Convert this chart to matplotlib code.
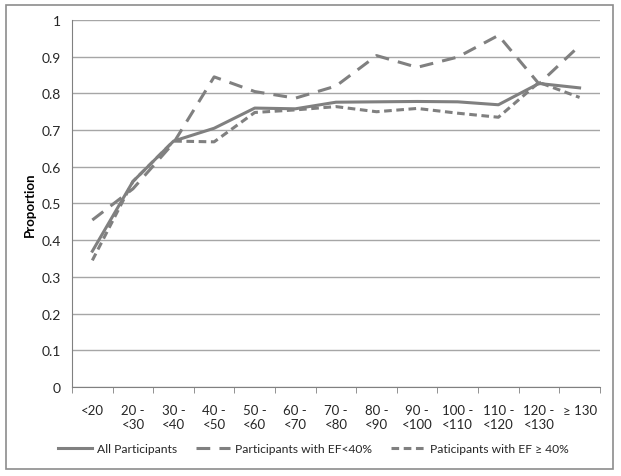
import matplotlib.pyplot as plt
from matplotlib.patches import Rectangle

categories = ["<20", "20 -\n<30", "30 -\n<40", "40 -\n<50", "50 -\n<60", "60 -\n<70",
              "70 -\n<80", "80 -\n<90", "90 -\n<100", "100 -\n<110", "110 -\n<120",
              "120 -\n<130", "\u2265 130"]
all_participants = [0.37, 0.56, 0.67, 0.705, 0.76, 0.758, 0.776, 0.777, 0.778, 0.777, 0.769, 0.827, 0.815]
ef_below_40 = [0.455, 0.54, 0.665, 0.845, 0.805, 0.787, 0.82, 0.903, 0.871, 0.899, 0.958, 0.826, 0.93]
ef_above_40 = [0.345, 0.56, 0.67, 0.668, 0.748, 0.755, 0.764, 0.75, 0.759, 0.746, 0.735, 0.83, 0.789]

plt.rcParams['font.family'] = ['Lato', 'DejaVu Sans']
col = '#808080'
tc = '#262626'

fig = plt.figure(figsize=(6.21, 4.77), dpi=100)
ax = fig.add_axes([0.116, 0.1866, 0.85, 0.7694])
fig.patches.append(Rectangle((6/621, 1 - 470/477), 607/621, 464/477, transform=fig.transFigure,
                             fill=False, edgecolor='#8c8c8c', linewidth=1.2))

x = list(range(len(categories)))
ax.plot(x, all_participants, color=col, lw=2.2, label="All Participants")
ax.plot(x, ef_below_40, color=col, lw=2.2, dashes=(4.5, 3), label="Participants with EF<40%")
ax.plot(x, ef_above_40, color=col, lw=2.2, dashes=(2.5, 1.5), label="Paticipants with EF \u2265 40%")

ax.set_xlim(-0.5, len(categories) - 0.5)
ax.set_ylim(0, 1)
ax.set_yticks([i / 10 for i in range(11)])
ax.set_yticklabels(["0", "0.1", "0.2", "0.3", "0.4", "0.5", "0.6", "0.7", "0.8", "0.9", "1"])
ax.set_xticks(x)
ax.set_xticklabels(categories, fontsize=9.5, color=tc, linespacing=1.25, va='top')
ax.set_xticks([i - 0.5 for i in range(len(categories) + 1)], minor=True)
ax.tick_params(axis='x', which='major', length=0, pad=12)
ax.tick_params(axis='x', which='minor', length=4, color=col)
ax.tick_params(axis='y', length=0, pad=8, labelsize=10, labelcolor=tc)
ax.grid(axis='y', color='#a6a6a6', lw=1)
ax.set_axisbelow(True)
for s in ['top', 'right']:
    ax.spines[s].set_visible(False)
for s in ['left', 'bottom']:
    ax.spines[s].set_color(col)
ax.set_ylabel("Proportion", fontweight='bold', fontsize=9.5, labelpad=4, color='black')

fig.legend(loc='center', bbox_to_anchor=(0.505, 1 - 450/477), ncol=3, frameon=False,
           fontsize=8.7, handlelength=2.8, columnspacing=1.6, handletextpad=0.4,
           labelcolor=tc)

fig.savefig("out.png", dpi=100)
